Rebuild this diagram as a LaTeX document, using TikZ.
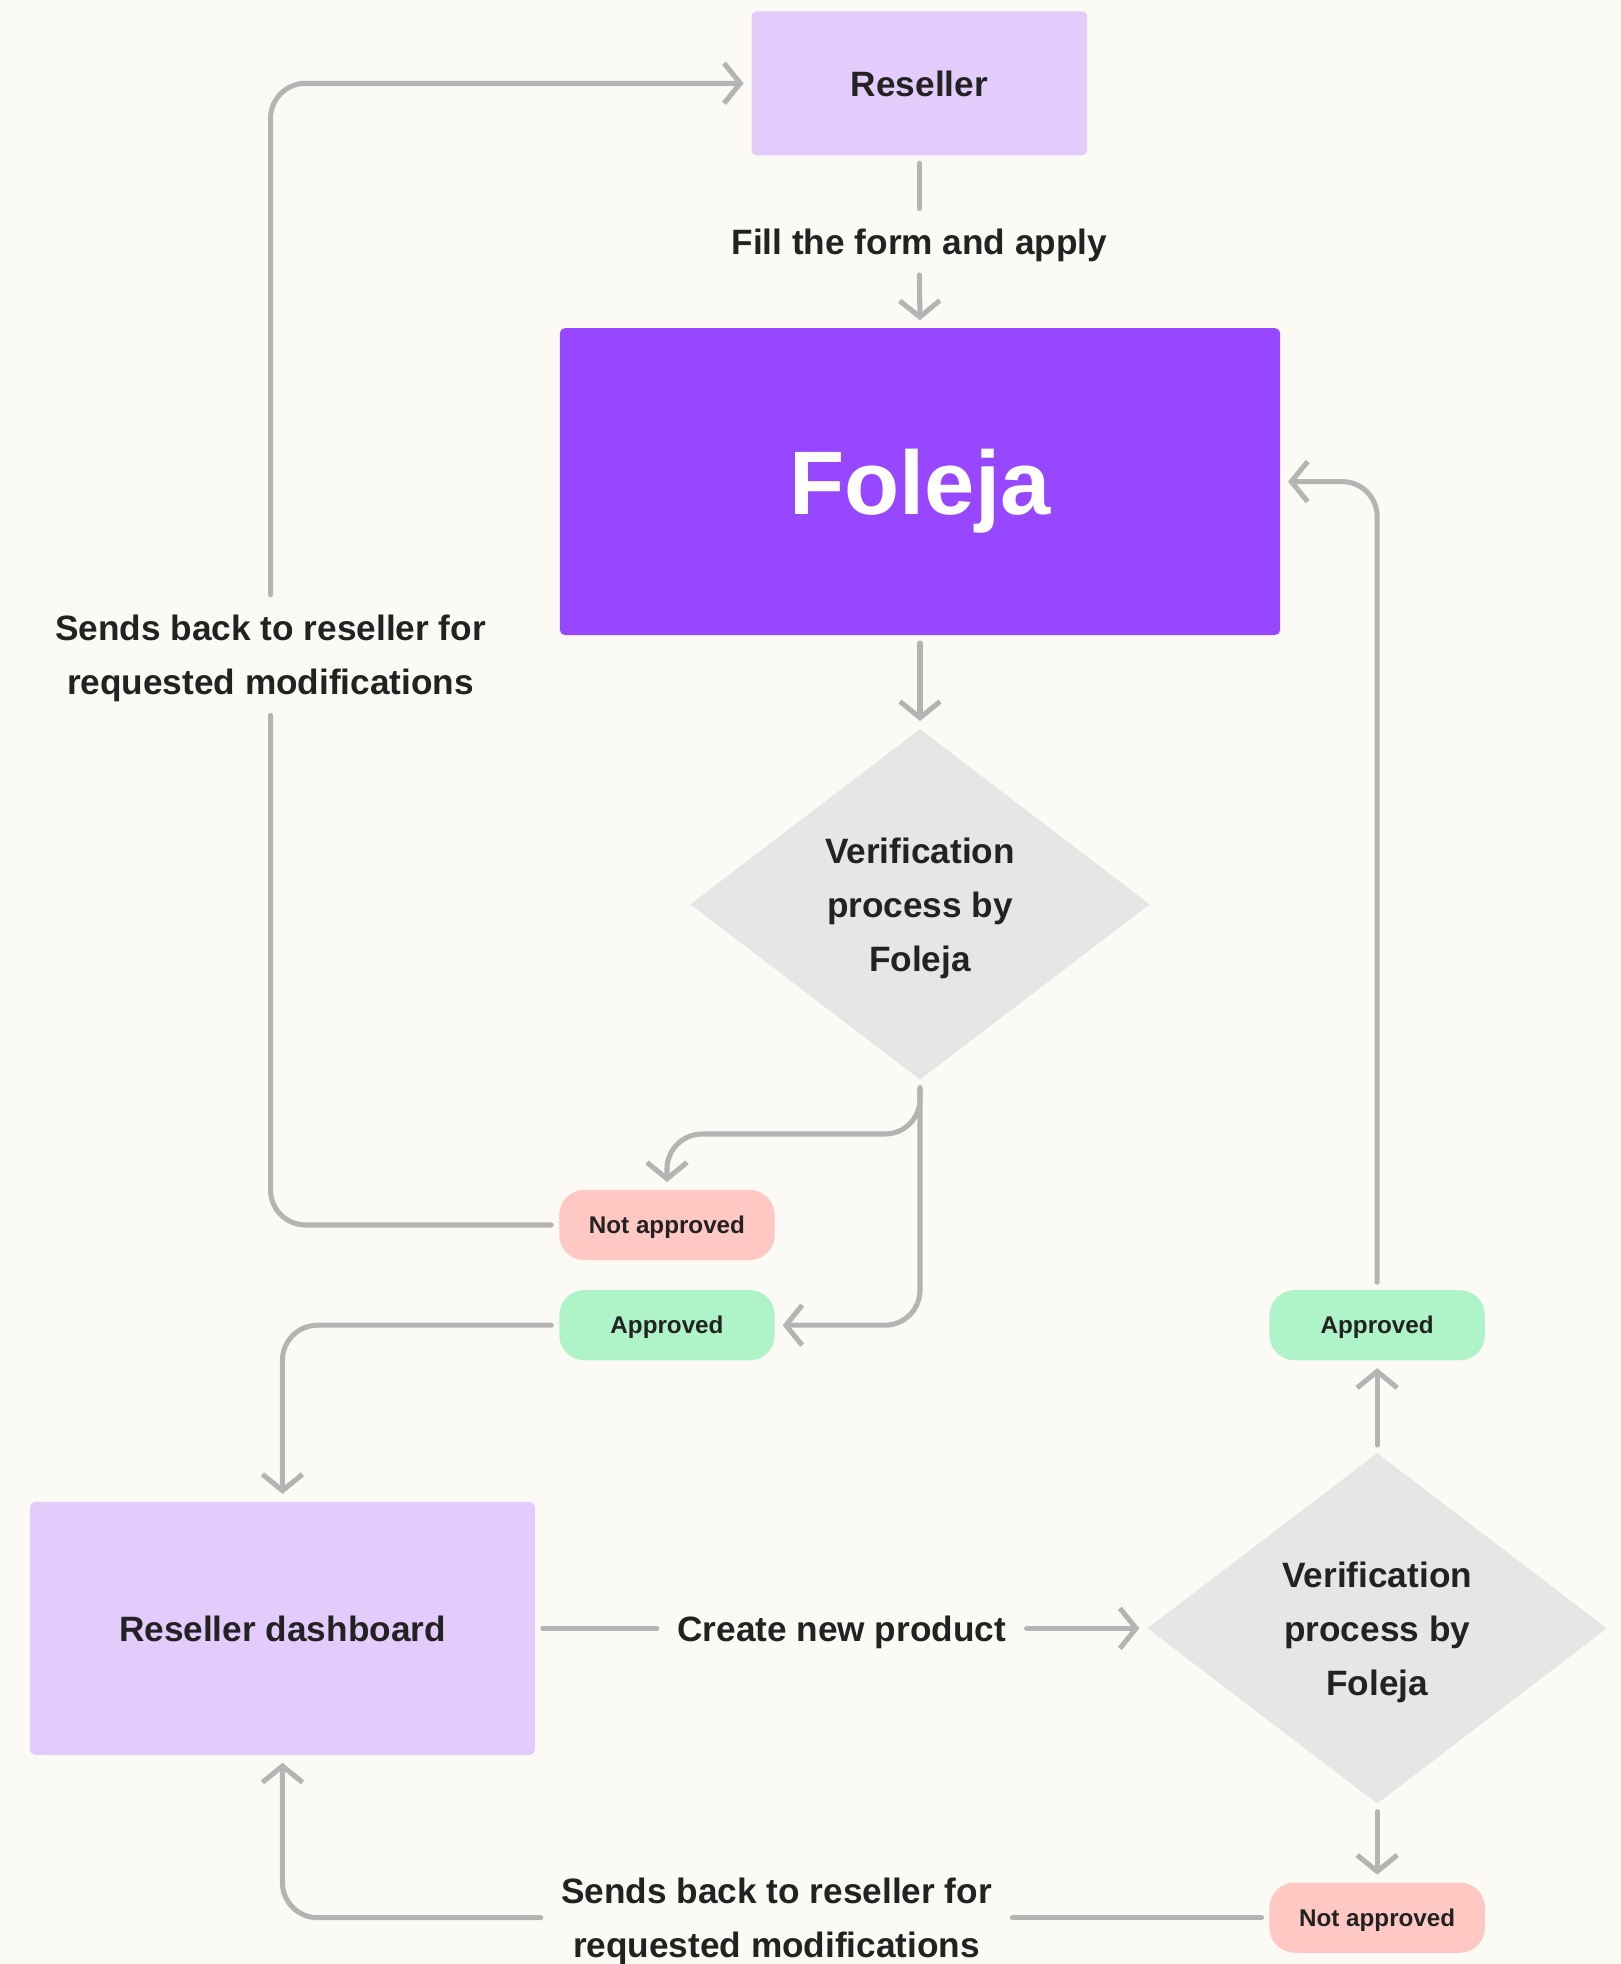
\documentclass[tikz,border=0pt]{standalone}
\usepackage{fontspec}
\setmainfont{Liberation Sans}
\usepackage{xcolor}
\usepackage{tikz}
\usetikzlibrary{arrows.meta,positioning,calc,shapes.geometric}

\definecolor{bgcol}{HTML}{FCFAF5}
\definecolor{ink}{HTML}{222222}
\definecolor{wire}{HTML}{B4B4B4}
\definecolor{lilac}{HTML}{E3CCFC}
\definecolor{violet}{HTML}{9747FF}
\definecolor{stone}{HTML}{E6E6E6}
\definecolor{rose}{HTML}{FFC8C3}
\definecolor{mint}{HTML}{AFF3C8}

\begin{document}
\begin{tikzpicture}[x=0.2mm, y=-0.2mm,
    every node/.style={font=\bfseries\fontsize{16}{24.5}\selectfont, text=ink, align=center, text depth=0pt},
    box/.style={fill=lilac, rounded corners=0.8mm},
    check/.style={diamond, fill=stone, aspect=1.31, inner sep=0pt, minimum width=73.4mm, minimum height=56mm},
    pill/.style={rounded corners=4mm, minimum width=34.4mm, minimum height=11.2mm, inner sep=0pt,
                 font=\bfseries\fontsize{11}{13}\selectfont},
    tag/.style={inner sep=2mm},
    flow/.style={draw=wire, line width=2.3pt, line cap=round, rounded corners=5.6mm,
                 shorten <=1.2mm, shorten >=1.2mm},
    tip/.style={-{Straight Barb[length=2.6mm,width=6.4mm]}}]

    \useasboundingbox (0,0) rectangle (1294,1568);
    \fill[bgcol] (0,0) rectangle (1294,1568);

    % top part
    \node[box, minimum width=53.6mm, minimum height=23mm] (res) at (734,66.5) {Reseller};
    \node[tag] (fill) at (734,193) {Fill the form and apply};
    \node[fill=violet, rounded corners=0.8mm, minimum width=115mm, minimum height=49mm,
          text=white, font=\bfseries\fontsize{41}{45}\selectfont] (fol) at (734.5,384.5) {Foleja};
    \node[check] (d1) at (734.5,722) {Verification\\process by\\Foleja};
    \node[pill, fill=rose] (na1) at (532.5,978) {Not approved};
    \node[pill, fill=mint] (ap1) at (532.5,1058) {Approved};
    \node[tag] (sb1) at (216,523) {Sends back to reseller for\\requested modifications};

    % bottom part
    \node[box, minimum width=80.6mm, minimum height=40.4mm] (dash) at (225.5,1300) {Reseller dashboard};
    \node[tag] (cnp) at (672,1300) {Create new product};
    \node[check] (d2) at (1099.5,1300) {Verification\\process by\\Foleja};
    \node[pill, fill=mint] (ap2) at (1099.5,1058) {Approved};
    \node[pill, fill=rose] (na2) at (1099.5,1531) {Not approved};
    \node[tag] (sb2) at (620,1531) {Sends back to reseller for\\requested modifications};

    \draw[flow] (res.south) -- (fill.north);
    \draw[flow,tip] (fill.south) -- (fol.north);
    \draw[flow,tip] (fol.south) -- (d1.north);
    \draw[flow,tip] (d1.south) -- ++(0,43) -| (na1.north);
    \draw[flow,tip] (d1.south) |- (ap1.east);
    \draw[flow] (na1.west) -| (sb1.south);
    \draw[flow,tip] (sb1.north) |- (res.west);
    \draw[flow,tip] (ap1.west) -| (dash.north);

    \draw[flow] (dash.east) -- (cnp.west);
    \draw[flow,tip] (cnp.east) -- (d2.west);
    \draw[flow,tip] (d2.north) -- (ap2.south);
    \draw[flow,tip] (ap2.north) |- (fol.east);
    \draw[flow,tip] (d2.south) -- (na2.north);
    \draw[flow] (na2.west) -- (sb2.east);
    \draw[flow,tip] (sb2.west) -| (dash.south);
\end{tikzpicture}
\end{document}
